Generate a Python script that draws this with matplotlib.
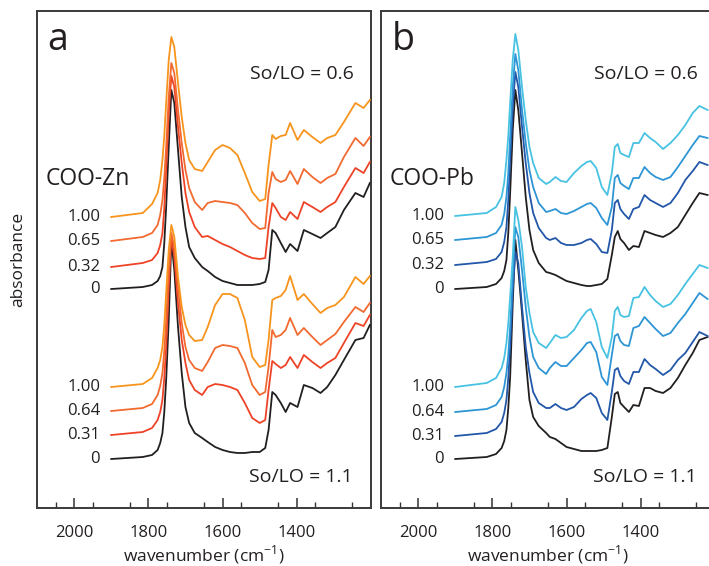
import matplotlib
matplotlib.use("Agg")
import matplotlib.pyplot as plt
from matplotlib.ticker import FixedLocator

plt.rcParams['font.family'] = ['Open Sans', 'DejaVu Sans']
plt.rcParams['mathtext.fontset'] = 'custom'
plt.rcParams['mathtext.rm'] = 'Open Sans'

# ---------------- data (wavenumber, absorbance offset traces) ----------------
zn_wn = [1900, 1815, 1790, 1775, 1768, 1762, 1757, 1752, 1745, 1738, 1730, 1720, 1710,
         1700, 1690, 1675, 1655, 1640, 1620, 1600, 1580, 1560, 1540, 1520, 1500, 1485,
         1476, 1466, 1457, 1443, 1430, 1418, 1398, 1381, 1358, 1336, 1318, 1296, 1273,
         1242, 1220, 1203]

zn_06_100 = [2.91, 2.95, 3.04, 3.15, 3.28, 3.48, 3.72, 4.05, 4.48, 4.71, 4.61, 4.25, 3.91,
             3.65, 3.48, 3.39, 3.37, 3.46, 3.58, 3.63, 3.60, 3.53, 3.35, 3.16, 3.07, 3.09,
             3.43, 3.73, 3.69, 3.72, 3.73, 3.85, 3.68, 3.78, 3.71, 3.65, 3.70, 3.73, 3.86,
             4.05, 4.00, 4.08]
zn_06_065 = [2.67, 2.71, 2.75, 2.83, 2.93, 3.08, 3.30, 3.61, 4.11, 4.45, 4.35, 3.98, 3.65,
             3.38, 3.20, 3.06, 2.98, 3.05, 3.07, 3.06, 3.05, 3.03, 2.95, 2.85, 2.79, 2.80,
             3.15, 3.36, 3.29, 3.26, 3.28, 3.37, 3.24, 3.39, 3.31, 3.25, 3.30, 3.34, 3.51,
             3.70, 3.62, 3.71]
zn_06_032 = [2.41, 2.45, 2.48, 2.55, 2.63, 2.75, 3.00, 3.38, 3.95, 4.32, 4.21, 3.81, 3.45,
             3.15, 2.96, 2.81, 2.71, 2.72, 2.68, 2.64, 2.61, 2.57, 2.53, 2.50, 2.49, 2.50,
             2.81, 3.05, 3.00, 2.91, 2.88, 2.96, 2.89, 3.06, 3.01, 2.96, 3.01, 3.06, 3.21,
             3.40, 3.35, 3.46]
zn_06_000 = [2.19, 2.21, 2.23, 2.27, 2.32, 2.41, 2.65, 3.01, 3.61, 4.18, 4.05, 3.58, 3.11,
             2.81, 2.61, 2.50, 2.41, 2.37, 2.31, 2.27, 2.25, 2.23, 2.23, 2.23, 2.24, 2.26,
             2.38, 2.78, 2.75, 2.65, 2.56, 2.64, 2.57, 2.78, 2.74, 2.70, 2.75, 2.81, 2.98,
             3.15, 3.11, 3.25]

zn_11_100 = [1.21, 1.24, 1.30, 1.40, 1.48, 1.61, 1.83, 2.15, 2.58, 2.83, 2.71, 2.31, 2.01,
             1.83, 1.73, 1.67, 1.68, 1.81, 2.03, 2.14, 2.14, 2.10, 1.88, 1.51, 1.41, 1.43,
             1.68, 2.08, 2.10, 2.12, 2.18, 2.32, 2.08, 2.14, 2.04, 1.95, 2.00, 2.03, 2.11,
             2.31, 2.24, 2.32]
zn_11_064 = [0.97, 1.00, 1.04, 1.13, 1.22, 1.35, 1.57, 1.88, 2.38, 2.75, 2.61, 2.21, 1.85,
             1.61, 1.48, 1.40, 1.37, 1.46, 1.60, 1.63, 1.62, 1.60, 1.45, 1.23, 1.13, 1.16,
             1.41, 1.78, 1.71, 1.73, 1.78, 1.90, 1.73, 1.80, 1.71, 1.63, 1.68, 1.74, 1.86,
             2.01, 1.96, 2.05]
zn_11_031 = [0.73, 0.76, 0.80, 0.88, 0.96, 1.08, 1.30, 1.61, 2.21, 2.71, 2.51, 2.05, 1.68,
             1.45, 1.28, 1.18, 1.13, 1.21, 1.24, 1.23, 1.21, 1.18, 1.05, 0.90, 0.85, 0.88,
             1.18, 1.47, 1.44, 1.40, 1.43, 1.51, 1.40, 1.53, 1.46, 1.40, 1.45, 1.50, 1.65,
             1.85, 1.82, 1.93]
zn_11_000 = [0.49, 0.51, 0.53, 0.58, 0.65, 0.75, 0.96, 1.28, 1.88, 2.68, 2.38, 1.81, 1.35,
             1.01, 0.85, 0.75, 0.70, 0.66, 0.61, 0.58, 0.56, 0.55, 0.55, 0.56, 0.56, 0.60,
             0.78, 1.16, 1.13, 1.05, 0.96, 1.05, 1.01, 1.23, 1.20, 1.15, 1.21, 1.33, 1.48,
             1.68, 1.70, 1.83]

pb_wn = [1900, 1815, 1790, 1775, 1768, 1762, 1757, 1752, 1745, 1738, 1730, 1720, 1710,
         1700, 1690, 1675, 1655, 1645, 1630, 1615, 1600, 1580, 1560, 1545, 1535, 1520,
         1505, 1490, 1478, 1470, 1462, 1455, 1445, 1432, 1420, 1405, 1390, 1375, 1360,
         1340, 1320, 1300, 1280, 1260, 1242, 1220]

pb_06_100 = [2.92, 2.95, 3.01, 3.11, 3.25, 3.48, 3.72, 4.05, 4.48, 4.74, 4.58, 4.21, 3.88,
             3.61, 3.45, 3.30, 3.24, 3.26, 3.31, 3.27, 3.26, 3.35, 3.42, 3.46, 3.47, 3.40,
             3.21, 3.13, 3.35, 3.61, 3.64, 3.55, 3.53, 3.51, 3.65, 3.65, 3.75, 3.70, 3.66,
             3.59, 3.65, 3.73, 3.83, 3.95, 4.02, 3.98]
pb_06_065 = [2.68, 2.71, 2.75, 2.83, 2.94, 3.11, 3.35, 3.71, 4.21, 4.54, 4.38, 3.98, 3.65,
             3.38, 3.21, 3.05, 2.96, 2.97, 2.99, 2.95, 2.94, 2.97, 3.01, 3.04, 3.05, 3.00,
             2.90, 2.83, 3.01, 3.30, 3.33, 3.25, 3.22, 3.19, 3.30, 3.30, 3.41, 3.35, 3.31,
             3.28, 3.31, 3.41, 3.52, 3.63, 3.72, 3.70]
pb_06_032 = [2.43, 2.46, 2.49, 2.56, 2.66, 2.81, 3.08, 3.48, 4.01, 4.36, 4.21, 3.81, 3.45,
             3.15, 2.95, 2.80, 2.70, 2.68, 2.70, 2.65, 2.63, 2.63, 2.65, 2.68, 2.69, 2.64,
             2.56, 2.55, 2.78, 3.05, 3.08, 2.99, 2.94, 2.89, 2.99, 3.01, 3.13, 3.08, 3.05,
             3.01, 3.05, 3.15, 3.28, 3.37, 3.46, 3.43]
pb_06_000 = [2.19, 2.21, 2.24, 2.30, 2.37, 2.48, 2.75, 3.15, 3.78, 4.18, 3.98, 3.55, 3.11,
             2.78, 2.58, 2.45, 2.36, 2.35, 2.33, 2.30, 2.27, 2.25, 2.23, 2.22, 2.22, 2.23,
             2.24, 2.29, 2.53, 2.71, 2.77, 2.69, 2.65, 2.58, 2.62, 2.61, 2.77, 2.75, 2.73,
             2.71, 2.75, 2.81, 2.93, 3.05, 3.15, 3.13]

pb_11_100 = [1.21, 1.25, 1.30, 1.40, 1.50, 1.65, 1.85, 2.11, 2.51, 3.01, 2.88, 2.61, 2.21,
             1.95, 1.76, 1.65, 1.60, 1.65, 1.73, 1.70, 1.71, 1.78, 1.90, 1.97, 1.99, 1.86,
             1.61, 1.50, 1.71, 1.97, 2.01, 1.93, 1.91, 1.92, 2.10, 2.11, 2.21, 2.13, 2.07,
             2.01, 2.04, 2.13, 2.24, 2.34, 2.43, 2.40]
pb_11_064 = [0.96, 0.99, 1.03, 1.11, 1.21, 1.35, 1.53, 1.81, 2.31, 2.81, 2.71, 2.38, 2.01,
             1.71, 1.51, 1.40, 1.34, 1.40, 1.46, 1.42, 1.42, 1.50, 1.58, 1.65, 1.66, 1.56,
             1.31, 1.23, 1.53, 1.72, 1.74, 1.67, 1.63, 1.62, 1.80, 1.82, 1.91, 1.85, 1.79,
             1.72, 1.75, 1.85, 1.94, 2.05, 2.15, 2.09]
pb_11_031 = [0.72, 0.75, 0.79, 0.86, 0.95, 1.08, 1.30, 1.61, 2.18, 2.56, 2.45, 2.01, 1.61,
             1.35, 1.16, 1.05, 1.00, 1.00, 1.04, 1.00, 0.98, 1.01, 1.09, 1.13, 1.15, 1.10,
             0.95, 0.88, 1.16, 1.38, 1.40, 1.32, 1.27, 1.24, 1.36, 1.36, 1.49, 1.43, 1.39,
             1.33, 1.38, 1.48, 1.55, 1.66, 1.76, 1.72]
pb_11_000 = [0.49, 0.51, 0.54, 0.60, 0.67, 0.78, 1.00, 1.31, 2.05, 2.68, 2.38, 1.95, 1.48,
             1.08, 0.91, 0.82, 0.75, 0.71, 0.69, 0.65, 0.61, 0.59, 0.57, 0.57, 0.57, 0.57,
             0.58, 0.60, 0.91, 1.14, 1.16, 1.05, 1.01, 0.96, 1.03, 1.02, 1.20, 1.20, 1.17,
             1.15, 1.20, 1.30, 1.43, 1.55, 1.68, 1.71]

zn_labels_06 = ["1.00", "0.65", "0.32", "0"]
zn_labels_11 = ["1.00", "0.64", "0.31", "0"]
pb_labels_06 = ["1.00", "0.65", "0.32", "0"]
pb_labels_11 = ["1.00", "0.64", "0.31", "0"]

major_ticks = [2000, 1800, 1600, 1400]
minor_ticks = [2050, 1950, 1850, 1750, 1650, 1550, 1450, 1350, 1250]

zn_colors = ["#F7941D", "#F26A30", "#EE4327", "#231F20"]
pb_colors = ["#48C2E2", "#2E95D5", "#2257A9", "#231F20"]

# ---------------- figure ----------------
W, H = 709, 566
fig = plt.figure(figsize=(W / 100, H / 100), dpi=100)


def make_panel(left_px, wn, groups, labels, colors, letter, metal):
    ax = fig.add_axes([left_px / W, (H - 508) / H, 334 / W, 497 / H])
    ax.set_xlim(2100, 1200)
    ax.set_ylim(0, 4.97)
    for curves, labs in zip(groups, labels):
        for y, c in reversed(list(zip(curves, colors))):
            ax.plot(wn, y, color=c, lw=1.3, solid_joinstyle='round', zorder=3)
        for y, lab in zip(curves, labs):
            ax.text(1930, y[0], lab, ha='right', va='center', fontsize=12, color='#231F20')
    ax.xaxis.set_major_locator(FixedLocator(major_ticks))
    ax.xaxis.set_minor_locator(FixedLocator(minor_ticks))
    ax.set_yticks([])
    ax.tick_params(axis='x', which='major', direction='in', length=7, width=1.1,
                   color='#333333', labelsize=12, pad=12, labelcolor='#231F20')
    ax.tick_params(axis='x', which='minor', direction='in', length=4, width=1.0,
                   color='#333333')
    for s in ax.spines.values():
        s.set_color('#3a3a3a')
        s.set_linewidth(1.4)
    ax.set_xlabel(r"wavenumber (cm$^{\mathregular{-1}}$)", fontsize=12.5,
                  labelpad=2, color='#231F20')
    ax.text(0.031, 0.921, letter, transform=ax.transAxes, fontsize=27,
            ha='left', va='baseline', color='#231F20')
    ax.text(0.949, 0.863, "So/LO = 0.6", transform=ax.transAxes, fontsize=14,
            ha='right', va='baseline', color='#231F20')
    ax.text(0.946, 0.052, "So/LO = 1.1", transform=ax.transAxes, fontsize=14,
            ha='right', va='baseline', color='#231F20')
    ax.text(0.027, 0.650, metal, transform=ax.transAxes, fontsize=16.5,
            ha='left', va='baseline', color='#231F20')
    return ax


ax_a = make_panel(37, zn_wn,
                  [[zn_06_100, zn_06_065, zn_06_032, zn_06_000],
                   [zn_11_100, zn_11_064, zn_11_031, zn_11_000]],
                  [zn_labels_06, zn_labels_11], zn_colors, "a", "COO-Zn")
ax_b = make_panel(381, pb_wn,
                  [[pb_06_100, pb_06_065, pb_06_032, pb_06_000],
                   [pb_11_100, pb_11_064, pb_11_031, pb_11_000]],
                  [pb_labels_06, pb_labels_11], pb_colors, "b", "COO-Pb")

fig.text(18 / W, 1 - 259 / H, "absorbance", rotation=90, ha='center', va='center',
         fontsize=12.5, color='#231F20')

fig.savefig("out.png", dpi=100)
